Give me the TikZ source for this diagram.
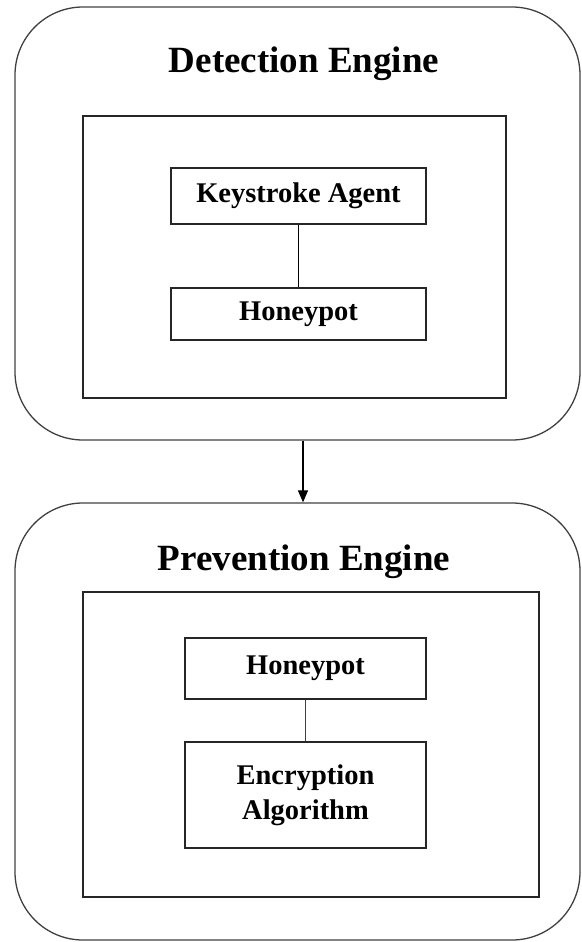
\documentclass[tikz,border=0pt]{standalone}
\usepackage{fontspec}
\setmainfont{Liberation Serif}
\usetikzlibrary{arrows.meta}

\tikzset{
  engine/.style={draw=black!75, line width=1.3pt, rounded corners=68pt, inner sep=0pt},
  panel/.style={draw=black!85, line width=1.2pt, inner sep=0pt},
  part/.style={draw=black!85, line width=1.2pt, inner sep=0pt, align=center,
    font=\fontsize{28.5}{35}\selectfont\bfseries},
  enginetitle/.style={anchor=base, font=\fontsize{37}{44}\selectfont\bfseries},
}

\begin{document}
\begin{tikzpicture}[x=1pt,y=-1pt]
  \useasboundingbox (0,0) rectangle (581,942);
  % detection engine
  \node[engine, minimum width=565pt, minimum height=433pt] (det) at (297.5,223.5) {};
  \node[enginetitle] (dettitle) at (304,73) {Detection Engine};
  \node[panel, minimum width=423pt, minimum height=282pt] (detpanel) at (294.5,257) {};
  \node[part, minimum width=255pt, minimum height=56pt] (agent) at (298.5,196) {Keystroke Agent};
  \node[part, minimum width=255pt, minimum height=52pt] (dethpot) at (298.5,314) {Honeypot};
  \draw[line width=1.2pt] (agent) -- (dethpot);
  % prevention engine
  \node[engine, minimum width=565pt, minimum height=437pt] (prev) at (297.5,721.5) {};
  \node[enginetitle] (prevtitle) at (304,570) {Prevention Engine};
  \node[panel, minimum width=456pt, minimum height=305pt] (prevpanel) at (311,744.5) {};
  \node[part, minimum width=241pt, minimum height=61pt] (prevhpot) at (305.5,668.5) {Honeypot};
  \node[part, minimum width=241pt, minimum height=106pt] (crypt) at (305.5,795) {Encryption\\Algorithm};
  \draw[line width=1.2pt, black!75] (prevhpot) -- (crypt);
  % flow between engines
  \draw[-{Triangle[length=12pt,width=10pt]}, line width=1.2pt]
    ([xshift=5.5pt]det.south) -- ([xshift=5.5pt]prev.north);
\end{tikzpicture}
\end{document}
